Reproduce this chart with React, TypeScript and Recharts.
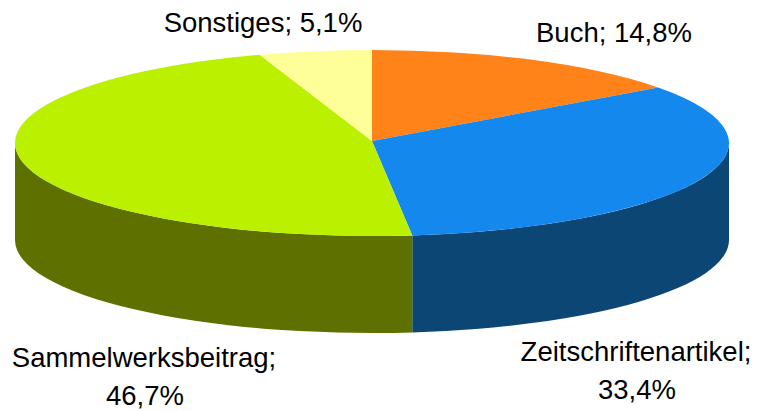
import { PieChart, Pie } from 'recharts';

const categories = ['Buch', 'Zeitschriftenartikel', 'Sammelwerksbeitrag', 'Sonstiges'];
const values = [14.8, 33.4, 46.7, 5.1];
const topColors = ['#FF8319', '#1588EE', '#BBF000', '#FFFF99'];
const sideColors = ['#A8550F', '#0B4675', '#5E7000', '#A8A865'];
// text centre x and baselines per category
const labelX = [614, 636, 144, 263];
const labelY = [42, 361, 367, 32];

const data = categories.map((name, i) => ({ name, value: values[i], fill: topColors[i] }));
const sideData = categories.map((name, i) => ({ name, value: values[i], fill: sideColors[i] }));

const CX = 372;
const CY = 143;
const APEX_Y = 141;
const RX = 357;
const RY = 93;
const DEPTH = 97;

const pt = (deg: number, dy = 0) => {
  const a = (deg * Math.PI) / 180;
  return `${CX + RX * Math.cos(a)} ${CY + dy - RY * Math.sin(a)}`;
};

// recharts hands out circular angles, squash them to an ellipse
function TopSlice(props: any) {
  const { startAngle, endAngle, fill } = props;
  const large = Math.abs(startAngle - endAngle) > 180 ? 1 : 0;
  const d = `M ${CX} ${APEX_Y} L ${pt(startAngle)} A ${RX} ${RY} 0 ${large} 1 ${pt(endAngle)} Z`;
  return <path d={d} fill={fill} />;
}

// only the front half of the rim is visible (angles 0 to -180)
function SideSlice(props: any) {
  const { startAngle, endAngle, fill } = props;
  const a0 = Math.min(startAngle, 0);
  const a1 = Math.max(endAngle, -180);
  if (a0 <= a1) return <g />;
  const d = `M ${pt(a0)} A ${RX} ${RY} 0 0 1 ${pt(a1)} L ${pt(a1, DEPTH)} A ${RX} ${RY} 0 0 0 ${pt(a0, DEPTH)} Z`;
  return <path d={d} fill={fill} />;
}

function renderLabel(props: any) {
  const { index, name, value } = props;
  const pct = `${String(value).replace('.', ',')}%`;
  const x = labelX[index];
  const y = labelY[index];
  const style = { fontFamily: '"Liberation Sans", Arial, sans-serif', fontSize: 27.5, fill: '#000' };
  if (index === 1 || index === 2) {
    return (
      <text x={x} y={y} textAnchor="middle" style={style}>
        <tspan x={x}>{name};</tspan>
        <tspan x={x + 1} dy={38}>{pct}</tspan>
      </text>
    );
  }
  return (
    <text x={x} y={y} textAnchor="middle" style={style}>
      {name}; {pct}
    </text>
  );
}

export default function App() {
  return (
    <div style={{ position: 'absolute', left: 0, top: 0, width: 757, height: 411, background: '#fff' }}>
      <PieChart width={757} height={411} margin={{ top: 0, right: 0, bottom: 0, left: 0 }}>
        <Pie
          data={sideData}
          dataKey="value"
          nameKey="name"
          cx={CX}
          cy={CY}
          outerRadius={RX}
          startAngle={90}
          endAngle={-270}
          stroke="none"
          shape={SideSlice}
          isAnimationActive={false}
        />
        <Pie
          data={data}
          dataKey="value"
          nameKey="name"
          cx={CX}
          cy={CY}
          outerRadius={RX}
          startAngle={90}
          endAngle={-270}
          stroke="none"
          shape={TopSlice}
          label={renderLabel}
          labelLine={false}
          isAnimationActive={false}
        />
      </PieChart>
    </div>
  );
}
